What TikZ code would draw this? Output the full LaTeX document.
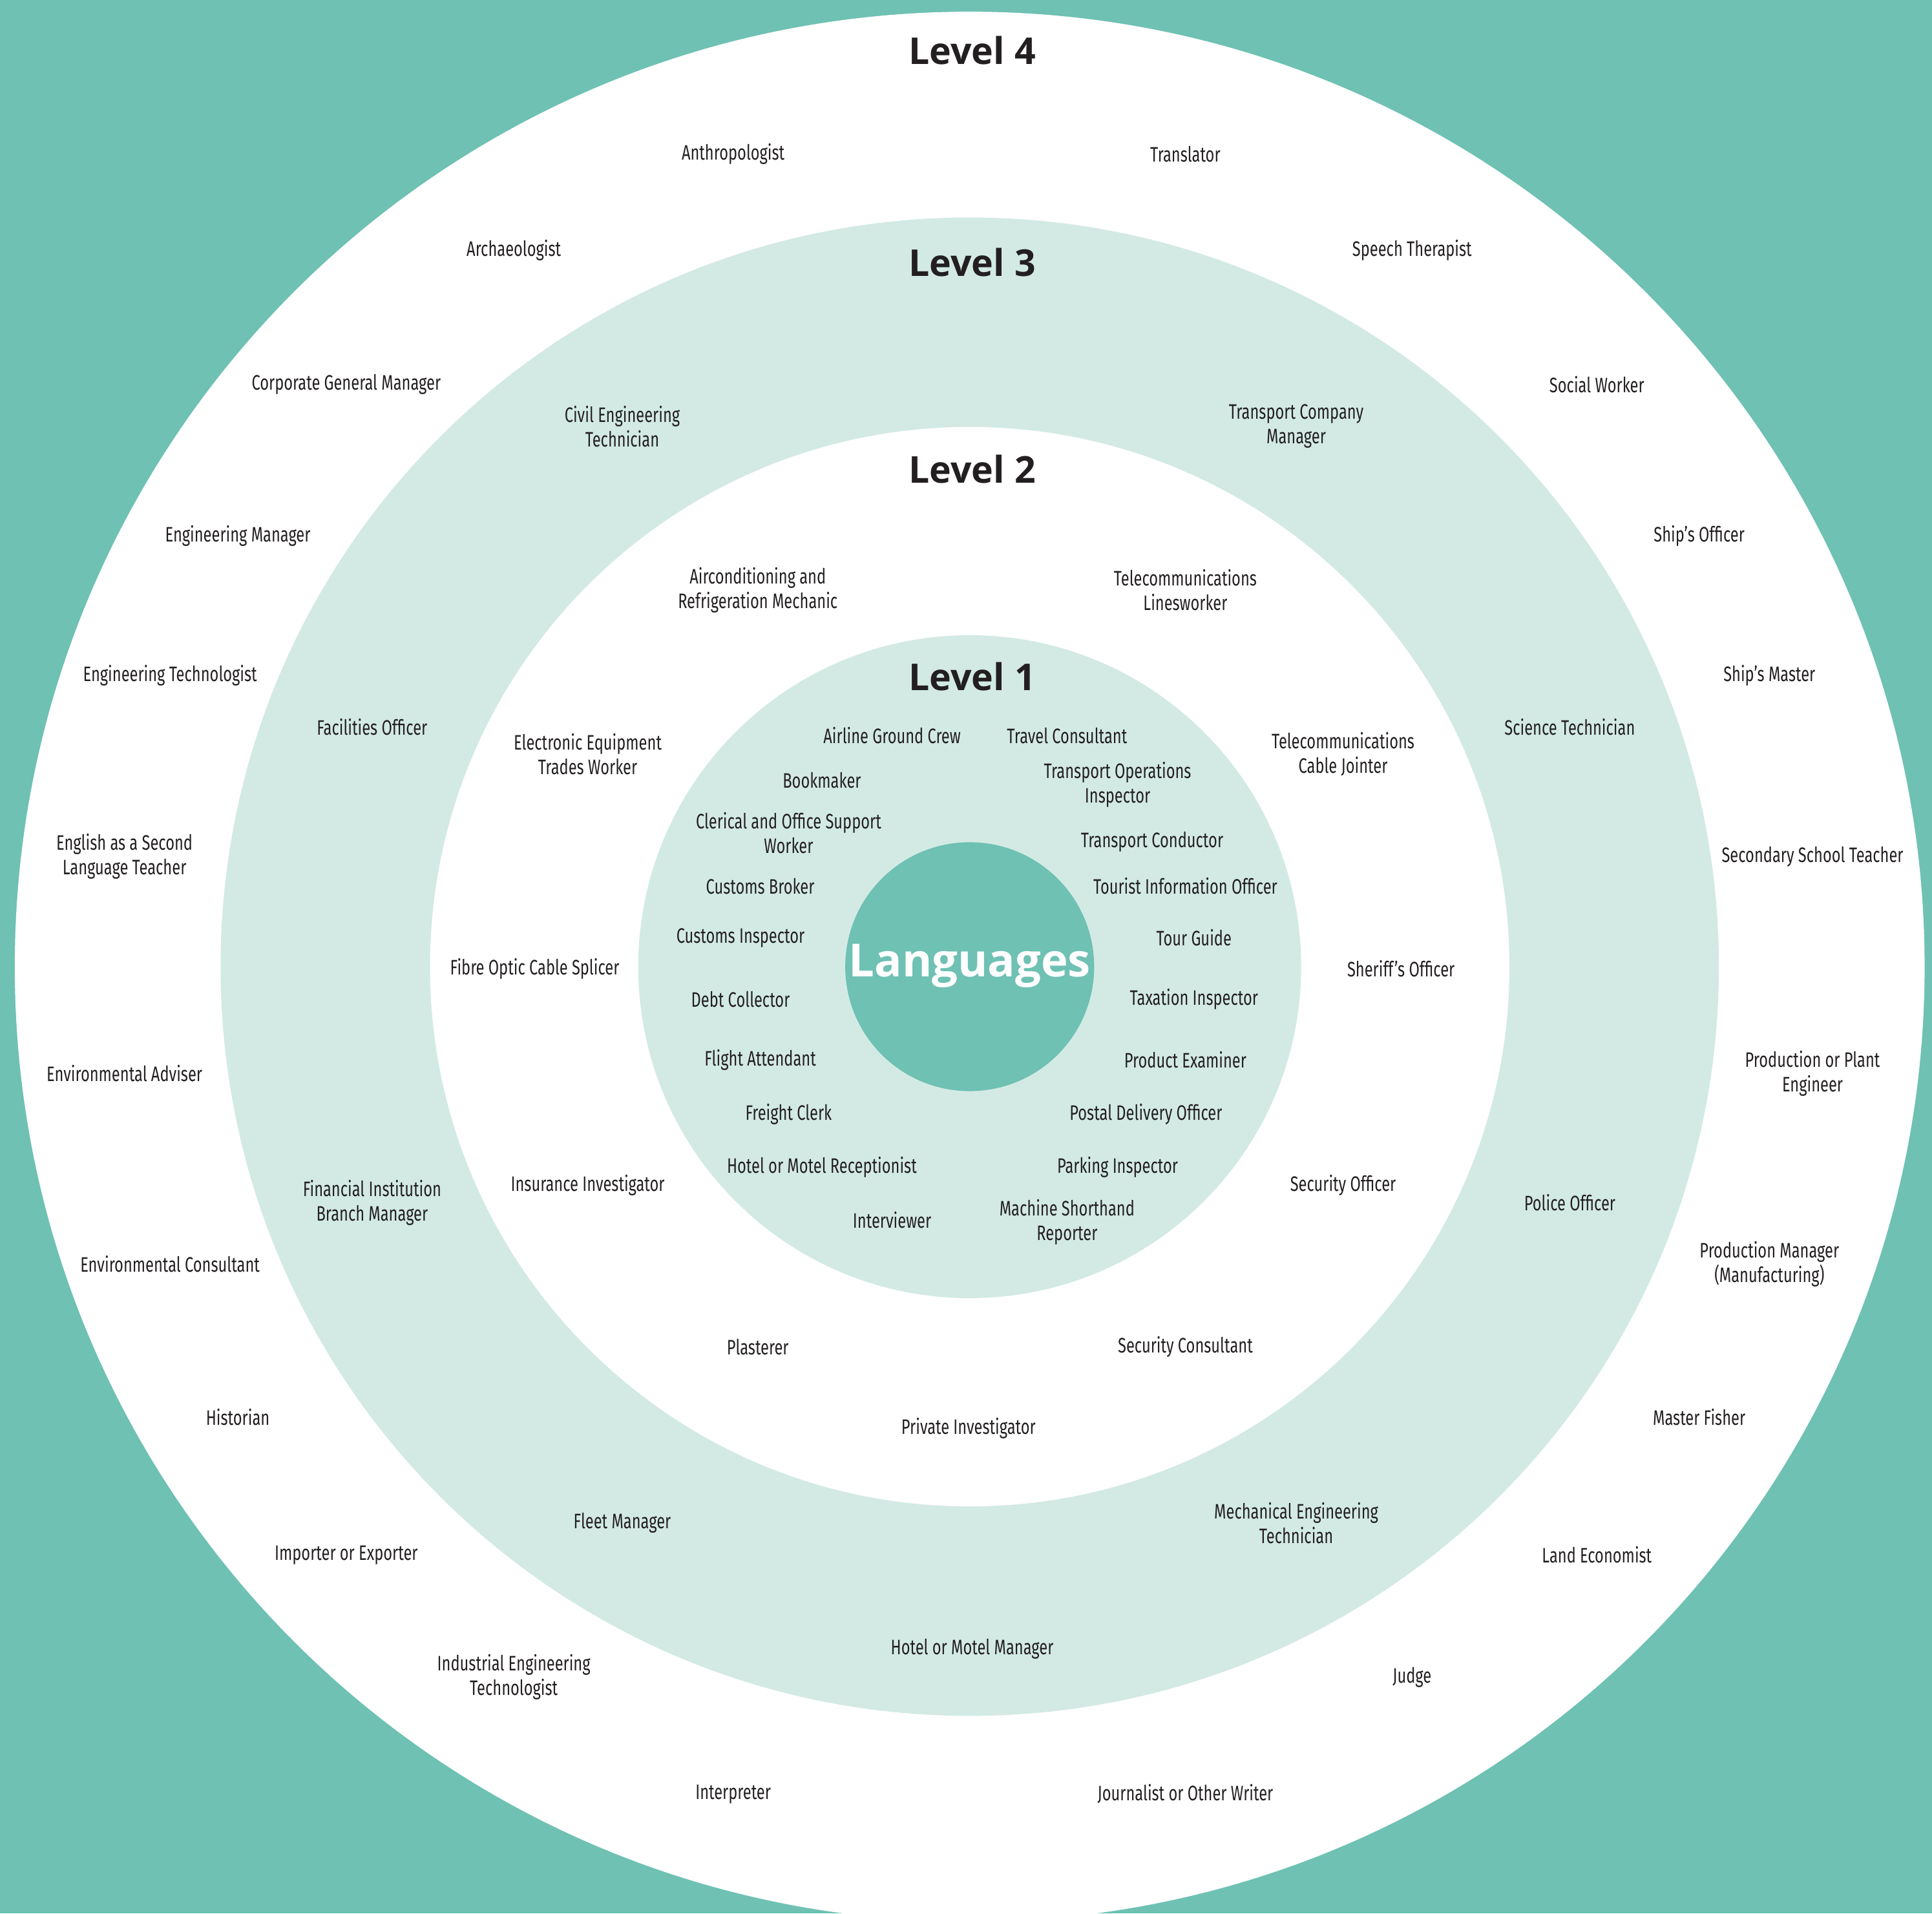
\documentclass[tikz,border=0pt]{standalone}
\usepackage{fontspec}
\newfontfamily\labelfont[FakeStretch=0.73]{Fira Sans}
\newfontfamily\headfont{Open Sans}
\definecolor{teal1}{HTML}{6EC1B3}
\definecolor{pale}{HTML}{D3EAE4}
\definecolor{ink}{HTML}{231F20}
\tikzset{
  job/.style={font=\labelfont\fontsize{17}{20}\selectfont, text=ink, align=center, inner sep=0pt},
  lvl/.style={font=\headfont\bfseries\fontsize{30}{34}\selectfont, text=ink, inner sep=0pt},
}
\begin{document}
\begin{tikzpicture}[x=1pt,y=-1pt]
\useasboundingbox (0,0) rectangle (1568,1553);
\fill[teal1] (0,0) rectangle (1568,1553);
\coordinate (c) at (787,784.5);
\fill[white] (c) circle (775);
\fill[pale] (c) circle (608);
\fill[white] (c) circle (438);
\fill[pale] (c) circle (269);
\fill[teal1] (c) circle (101);
\node[font=\headfont\bfseries\fontsize{37}{40}\selectfont, text=white, inner sep=0pt] (lang) at (787,784) {Languages};
% Level headings
\node[lvl] (h4) at (789,41) {Level 4};
\node[lvl] (h3) at (789,213) {Level 3};
\node[lvl] (h2) at (789,381) {Level 2};
\node[lvl] (h1) at (789,549) {Level 1};
% Level 4
\node[job] (a1) at (595,125) {Anthropologist};
\node[job] (a2) at (962,125) {Translator};
\node[job] (a3) at (417,203) {Archaeologist};
\node[job] (a4) at (1146,203) {Speech Therapist};
\node[job] (a5) at (281,312) {Corporate General Manager};
\node[job] (a6) at (1296,312) {Social Worker};
\node[job] (a7) at (193,435) {Engineering Manager};
\node[job] (a8) at (1379,435) {Ship’s Officer};
\node[job] (a9) at (138,548) {Engineering Technologist};
\node[job] (a10) at (1436,548) {Ship’s Master};
\node[job] (a11) at (101,695) {English as a Second\\Language Teacher};
\node[job] (a12) at (1471,695) {Secondary School Teacher};
\node[job] (a13) at (101,871) {Environmental Adviser};
\node[job] (a14) at (1471,871) {Production or Plant\\Engineer};
\node[job] (a15) at (138,1026) {Environmental Consultant};
\node[job] (a16) at (1436,1026) {Production Manager\\(Manufacturing)};
\node[job] (a17) at (193,1150) {Historian};
\node[job] (a18) at (1379,1150) {Master Fisher};
\node[job] (a19) at (281,1262) {Importer or Exporter};
\node[job] (a20) at (1296,1262) {Land Economist};
\node[job] (a21) at (417,1361) {Industrial Engineering\\Technologist};
\node[job] (a22) at (1146,1361) {Judge};
\node[job] (a23) at (595,1456) {Interpreter};
\node[job] (a24) at (962,1456) {Journalist or Other Writer};
% Level 3
\node[job] (b1) at (505,346) {Civil Engineering\\Technician};
\node[job] (b2) at (1052,346) {Transport Company\\Manager};
\node[job] (b3) at (302,590) {Facilities Officer};
\node[job] (b4) at (1274,590) {Science Technician};
\node[job] (b5) at (302,976) {Financial Institution\\Branch Manager};
\node[job] (b6) at (1274,976) {Police Officer};
\node[job] (b7) at (505,1236) {Fleet Manager};
\node[job] (b8) at (1052,1236) {Mechanical Engineering\\Technician};
\node[job] (b9) at (789,1338) {Hotel or Motel Manager};
% Level 2
\node[job] (c1) at (615,479) {Airconditioning and\\Refrigeration Mechanic};
\node[job] (c2) at (962,479) {Telecommunications\\Linesworker};
\node[job] (c3) at (477,612) {Electronic Equipment\\Trades Worker};
\node[job] (c4) at (1090,612) {Telecommunications\\Cable Jointer};
\node[job] (c5) at (434,786) {Fibre Optic Cable Splicer};
\node[job] (c6) at (1137,786) {Sheriff’s Officer};
\node[job] (c7) at (477,962) {Insurance Investigator};
\node[job] (c8) at (1090,962) {Security Officer};
\node[job] (c9) at (615,1093) {Plasterer};
\node[job] (c10) at (962,1093) {Security Consultant};
\node[job] (c11) at (786,1159) {Private Investigator};
% Level 1
\node[job] (d1) at (724,597) {Airline Ground Crew};
\node[job] (d2) at (866,597) {Travel Consultant};
\node[job] (d3) at (667,633) {Bookmaker};
\node[job] (d4) at (907,637) {Transport Operations\\Inspector};
\node[job] (d5) at (640,676) {Clerical and Office Support\\Worker};
\node[job] (d6) at (935,683) {Transport Conductor};
\node[job] (d7) at (617,719) {Customs Broker};
\node[job] (d8) at (962,719) {Tourist Information Officer};
\node[job] (d9) at (601,761) {Customs Inspector};
\node[job] (d10) at (969,761) {Tour Guide};
\node[job] (d11) at (601,811) {Debt Collector};
\node[job] (d12) at (969,811) {Taxation Inspector};
\node[job] (d13) at (617,860) {Flight Attendant};
\node[job] (d14) at (962,860) {Product Examiner};
\node[job] (d15) at (640,904) {Freight Clerk};
\node[job] (d16) at (930,904) {Postal Delivery Officer};
\node[job] (d17) at (667,947) {Hotel or Motel Receptionist};
\node[job] (d18) at (907,947) {Parking Inspector};
\node[job] (d19) at (724,990) {Interviewer};
\node[job] (d20) at (866,992) {Machine Shorthand\\Reporter};
\end{tikzpicture}
\end{document}
